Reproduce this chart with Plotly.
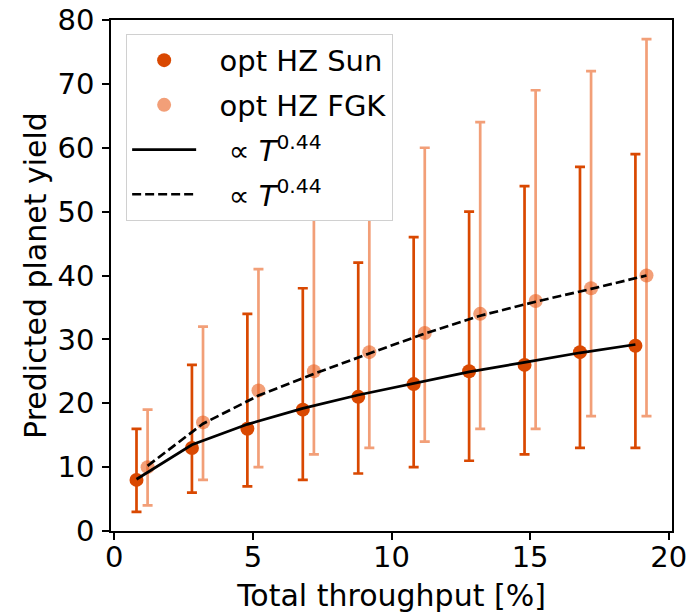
import plotly.graph_objects as go

# Data
sun_x = [0.8, 2.8, 4.8, 6.8, 8.8, 10.8, 12.8, 14.8, 16.8, 18.8]
sun_y = [8, 13, 16, 19, 21, 23, 25, 26, 28, 29]
sun_lo = [3, 6, 7, 8, 9, 10, 11, 12, 13, 13]
sun_hi = [16, 26, 34, 38, 42, 46, 50, 54, 57, 59]

fgk_x = [1.2, 3.2, 5.2, 7.2, 9.2, 11.2, 13.2, 15.2, 17.2, 19.2]
fgk_y = [10, 17, 22, 25, 28, 31, 34, 36, 38, 40]
fgk_lo = [4, 8, 10, 12, 13, 14, 16, 16, 18, 18]
fgk_hi = [19, 32, 41, 49, 55, 60, 64, 69, 72, 77]

fit_sun = [8.1, 13.5, 16.7, 19.2, 21.3, 23.1, 24.9, 26.4, 27.9, 29.2]
fit_fgk = [10.2, 16.8, 21.2, 24.6, 27.8, 30.9, 33.7, 35.9, 37.9, 40.0]

x_ticks = [0, 5, 10, 15, 20]
y_ticks = [0, 10, 20, 30, 40, 50, 60, 70, 80]

sun_col = "#d94801"
fgk_col = "rgba(233,95,30,0.6)"
FS = 29
FT = 30
PAD = "\u00a0\u00a0"

fig = go.Figure()

fig.add_trace(go.Scatter(
    x=sun_x, y=sun_y, mode="markers", name=PAD + "opt HZ Sun",
    legendgroup="a",
    marker=dict(color=sun_col, size=14),
    error_y=dict(type="data", symmetric=False,
                 array=[h - v for h, v in zip(sun_hi, sun_y)],
                 arrayminus=[v - l for l, v in zip(sun_lo, sun_y)],
                 color=sun_col, thickness=2.7, width=5),
))
fig.add_trace(go.Scatter(
    x=fgk_x, y=fgk_y, mode="markers", name=PAD + "opt HZ FGK",
    legendgroup="b",
    marker=dict(color=fgk_col, size=14),
    error_y=dict(type="data", symmetric=False,
                 array=[h - v for h, v in zip(fgk_hi, fgk_y)],
                 arrayminus=[v - l for l, v in zip(fgk_lo, fgk_y)],
                 color=fgk_col, thickness=2.7, width=5),
))
fig.add_trace(go.Scatter(
    x=sun_x, y=fit_sun, mode="lines",
    name=PAD + "\u00a0\u221d <i>T</i><sup>0.44</sup>",
    legendgroup="c",
    line=dict(color="black", width=2.7),
))
fig.add_trace(go.Scatter(
    x=fgk_x, y=fit_fgk, mode="lines",
    name=PAD + "\u00a0\u221d <i>T</i><sup>0.44</sup>",
    legendgroup="d",
    line=dict(color="black", width=2.7, dash="9px,4px"),
))

axis_common = dict(
    showline=True, linecolor="black", linewidth=1.5, mirror=True,
    ticks="outside", ticklen=7, tickwidth=1.5, tickcolor="black",
    showgrid=False, zeroline=False, automargin=False,
    tickfont=dict(family="DejaVu Sans", size=FS, color="black"),
    title_font=dict(family="DejaVu Sans", size=FT, color="black"),
)

fig.update_layout(
    width=694, height=613,
    margin=dict(l=111, r=22, t=20, b=82),
    plot_bgcolor="white", paper_bgcolor="white",
    font=dict(family="DejaVu Sans", size=FS, color="black"),
    xaxis=dict(range=[-0.12, 20.12], tickvals=x_ticks, ticklabelstandoff=-8,
               title=dict(text="Total throughput [%]", standoff=14), **axis_common),
    yaxis=dict(range=[0, 80], tickvals=y_ticks, ticklabelstandoff=2,
               title=dict(text="Predicted planet yield", standoff=2), **axis_common),
    legend=dict(
        x=0.027, y=0.973, xanchor="left", yanchor="top",
        bgcolor="white", bordercolor="#d0d0d0", borderwidth=1,
        font=dict(family="DejaVu Sans", size=FS, color="black"),
        itemwidth=64, traceorder="grouped", tracegroupgap=4,
    ),
    showlegend=True,
)

fig.write_html(
    "out.html",
    config={"displayModeBar": False},
    post_script="document.body.style.margin='0';document.body.style.overflow='hidden';",
)
